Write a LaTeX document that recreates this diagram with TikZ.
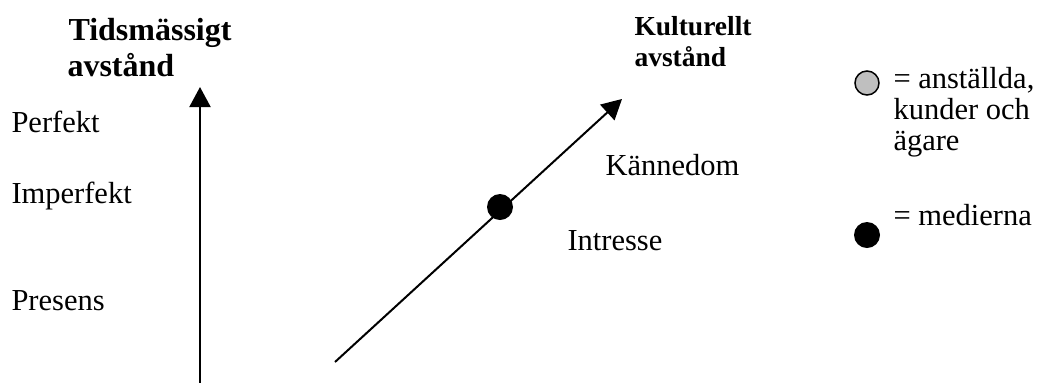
\documentclass[tikz,border=0pt]{standalone}
\usepackage{fontspec}
\setmainfont{Liberation Serif}
\usetikzlibrary{arrows.meta}
\tikzset{
	texte/.style={anchor=base west,inner sep=0pt,font=\fontsize{12.2}{14}\selectfont},
	titre/.style={anchor=base west,inner sep=0pt,font=\bfseries\fontsize{12.8}{15}\selectfont},
	petittitre/.style={anchor=base west,inner sep=0pt,font=\bfseries\fontsize{11}{13}\selectfont},
	axe/.style={line width=0.8pt,-{Triangle[width=8.4pt,length=8pt]}},
	noir/.style={circle,fill=black,inner sep=0pt,minimum size=10.4pt},
	gris/.style={circle,draw=black,line width=0.6pt,fill=gray!50,inner sep=0pt,minimum size=9.6pt}
}
\begin{document}
\begin{tikzpicture}[x=0.4pt,y=-0.4pt]
		\useasboundingbox (0,0) rectangle (1042,382);
		%titres
		\node[titre] (tid1) at (68,40) {Tidsmässigt};
		\node[titre] (tid2) at (67,76) {avstånd};
		\node[petittitre] (kul1) at (634,35) {Kulturellt};
		\node[petittitre] (kul2) at (634,66) {avstånd};
		%axe du temps
		\coordinate (tbas) at (200,383);
		\coordinate (thaut) at (200,87);
		\draw[axe] (tbas) -- (thaut);
		\node[texte] (perf) at (11,132) {Perfekt};
		\node[texte] (imperf) at (11,203) {Imperfekt};
		\node[texte] (pres) at (11,310) {Presens};
		%axe culturel
		\coordinate (kbas) at (335,362);
		\coordinate (khaut) at (622,99);
		\draw[axe] (kbas) -- (khaut);
		\node[noir] (medier) at (500,207) {};
		\node[texte] (kann) at (605,175) {Kännedom};
		\node[texte] (intr) at (567,250) {Intresse};
		%légende
		\node[gris] (lgris) at (867,83) {};
		\node[texte] (lg1) at (893,88) {= anställda,};
		\node[texte] (lg2) at (893,119) {kunder och};
		\node[texte] (lg3) at (893,150) {ägare};
		\node[noir] (lnoir) at (867,235) {};
		\node[texte] (ln1) at (893,225) {= medierna};
	\end{tikzpicture}
\end{document}
